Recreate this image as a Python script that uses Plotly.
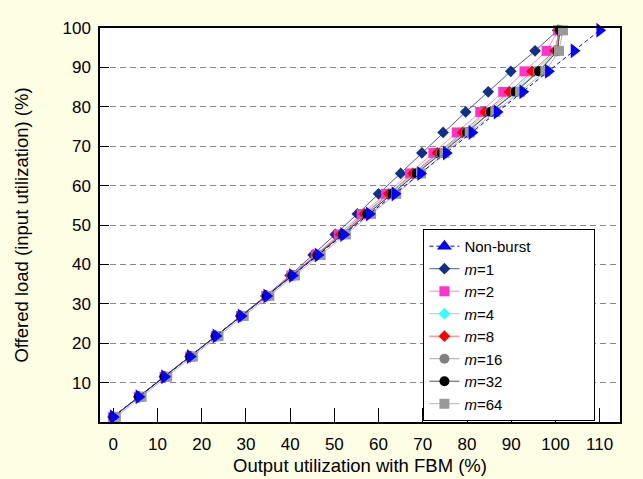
import plotly.graph_objects as go

# Offered load (input utilization, %) for each measurement row
offered_load = [1.3, 6.4, 11.5, 16.6, 21.8, 26.9, 32.0, 37.2, 42.4, 47.6,
                52.8, 57.9, 63.1, 68.3, 73.5, 78.7, 83.8, 89.0, 94.2, 99.4]

# Output utilization with FBM (%)
non_burst = [0, 5.8, 11.6, 17.4, 23.2, 28.9, 34.7, 40.5, 46.3, 52.1,
             57.9, 63.7, 69.5, 75.3, 81.1, 86.8, 92.6, 98.4, 104.2, 110]
m1 = [0, 5.8, 11.6, 17.4, 23.2, 28.8, 34.5, 40.0, 45.2, 50.2,
      55.2, 60.0, 65.0, 69.8, 74.6, 79.7, 84.8, 89.9, 95.4, 100.5]
m2 = [0, 5.8, 11.6, 17.4, 23.2, 28.9, 34.6, 40.3, 45.8, 51.0,
      56.2, 61.7, 67.1, 72.4, 77.7, 83.0, 88.2, 93.0, 98.0, 100.6]
m4 = [0, 5.8, 11.6, 17.4, 23.2, 28.9, 34.7, 40.4, 46.1, 51.6,
      57.0, 62.6, 68.1, 73.7, 79.4, 84.6, 90.2, 95.3, 100.2, 100.8]
m8 = [0, 5.8, 11.6, 17.4, 23.2, 28.9, 34.7, 40.4, 46.0, 51.4,
      56.8, 62.3, 67.8, 73.3, 79.0, 84.1, 89.6, 94.7, 99.9, 100.8]
m16 = [0, 5.8, 11.6, 17.4, 23.2, 28.9, 34.7, 40.5, 46.2, 51.8,
       57.3, 63.0, 68.5, 74.1, 79.8, 85.2, 90.8, 96.0, 100.4, 101.0]
m32 = [0, 5.8, 11.6, 17.4, 23.2, 28.9, 34.7, 40.5, 46.2, 51.9,
       57.4, 63.1, 68.6, 74.3, 80.0, 85.4, 91.0, 96.3, 100.5, 101.0]
m64 = [0.6, 6.4, 12.2, 18.0, 23.8, 29.5, 35.3, 41.1, 46.9, 52.6,
       58.3, 64.0, 69.6, 74.9, 80.6, 86.4, 92.0, 97.7, 100.8, 101.7]

x_ticks = list(range(0, 111, 10))
y_ticks = list(range(10, 101, 10))

FONT = "Arial, Liberation Sans, sans-serif"
BG = "#FEFEE4"
PAD = "\u00a0" * 14  # widens the legend box to match the reference

series = [
    ("<i>m</i>=1", m1, "#10308A", "#1A2F8F", "diamond", 9),
    ("<i>m</i>=2", m2, "#FF33CC", "#FF66CC", "square", 10),
    ("<i>m</i>=4", m4, "#33FFFF", "#33DDEE", "diamond", 9),
    ("<i>m</i>=8", m8, "#FF0000", "#FF4444", "diamond", 9),
    ("<i>m</i>=16", m16, "#808080", "#909090", "circle", 10),
    ("<i>m</i>=32", m32, "#000000", "#222222", "circle", 10),
    ("<i>m</i>=64", m64, "#999999", "#A0A0A0", "square", 10),
]

fig = go.Figure()

# legend entry for Non-burst (triangle-up symbol as in the legend)
fig.add_trace(go.Scatter(
    x=[None], y=[None], name="Non-burst" + PAD, mode="lines+markers",
    line=dict(color="#0000FF", width=1, dash="4px,3px"),
    marker=dict(symbol="triangle-up", size=13, color="#0000FF"),
))

for name, xs, mc, lc, sym, sz in series:
    fig.add_trace(go.Scatter(
        x=xs, y=offered_load, name=name, mode="lines+markers",
        line=dict(color=lc, width=0.8),
        marker=dict(symbol=sym, size=sz, color=mc),
        cliponaxis=False,
    ))

fig.add_trace(go.Scatter(
    x=non_burst, y=offered_load, name="Non-burst", mode="lines+markers",
    showlegend=False,
    line=dict(color="#0000FF", width=1, dash="4px,3px"),
    marker=dict(symbol="triangle-right", size=13, color="#0000FF"),
    cliponaxis=False,
))

fig.update_layout(
    width=643, height=479,
    margin=dict(l=100, r=23, t=28, b=57),
    paper_bgcolor=BG,
    plot_bgcolor="#FFFFFF",
    font=dict(family=FONT, size=16, color="#000000"),
    showlegend=True,
    legend=dict(
        x=0.622, y=0.49, xanchor="left", yanchor="top",
        bgcolor="#FFFFFF", bordercolor="#000000", borderwidth=1,
        font=dict(family=FONT, size=15, color="#000000"),
        tracegroupgap=0,
    ),
    xaxis=dict(
        range=[-3, 114.6], tickmode="array", tickvals=x_ticks,
        ticks="inside", ticklen=14, tickwidth=1.3, tickcolor="#000000",
        showline=True, linecolor="#000000", linewidth=1.5, mirror=True,
        showgrid=False, zeroline=False, automargin=False,
        tickfont=dict(size=17), ticklabelstandoff=6,
        title=dict(text="Output utilization with FBM (%)", font=dict(size=18.5), standoff=6),
    ),
    yaxis=dict(
        range=[0, 100], tickmode="array", tickvals=y_ticks,
        ticks="inside", ticklen=9, tickwidth=1.3, tickcolor="#000000",
        showline=True, linecolor="#000000", linewidth=1.5, mirror=True,
        showgrid=True, gridcolor="#888888", gridwidth=1.2, griddash="6px,4px",
        zeroline=False, automargin=False,
        tickfont=dict(size=17), ticklabelstandoff=4,
        title=dict(text="Offered load (input utilization) (%)", font=dict(size=18.5), standoff=29),
    ),
)

fig.write_html(
    "out.html",
    config={"displayModeBar": False},
    post_script=(
        "document.body.style.margin='0px';"
        "document.body.style.padding='0px';"
        "document.body.style.background='" + BG + "';"
    ),
)
